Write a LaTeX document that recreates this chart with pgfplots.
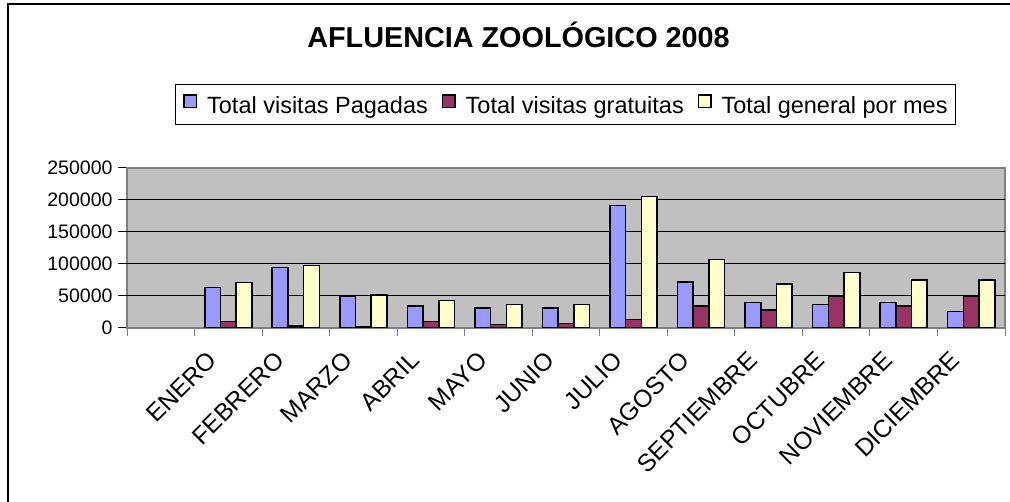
\documentclass[border=0pt]{standalone}
\usepackage{pgfplots}
\pgfplotsset{compat=1.18}
\usepackage{pgfplotstable}
\usepackage{fontspec}
\setmainfont{Liberation Sans}
\definecolor{cblue}{RGB}{153,153,255}
\definecolor{cred}{RGB}{153,51,102}
\definecolor{cyel}{RGB}{255,255,204}
\definecolor{cplot}{RGB}{192,192,192}
\definecolor{cframe}{RGB}{128,128,128}
\pgfplotstableread{
x pag grat tot
1 63000 10400 71300
2 94800 3100 97900
3 49500 2600 51600
4 34400 10400 42700
5 31250 5700 37000
6 31250 7300 37000
7 191100 13500 205700
8 71900 34400 107300
9 39600 28100 68700
10 37000 49500 86500
11 39600 34400 75000
12 25500 49500 75000
}\datatable
\begin{document}
\begin{tikzpicture}[x=1pt,y=1pt]
\path[use as bounding box] (0,0) rectangle (1010,502);
\draw[line width=2pt] (8,0) -- (8,498) -- (1010,498);
\node[font=\fontsize{28.8}{32}\selectfont\bfseries, anchor=base] at (518.5,454) {AFLUENCIA ZOOLÓGICO 2008};
\begin{axis}[
  at={(127pt,174pt)}, anchor=south west,
  scale only axis, width=878pt, height=160pt,
  xmin=-0.5, xmax=12.5, ymin=0, ymax=250000,
  ybar=0pt, bar width=15.7pt,
  axis background/.style={fill=cplot},
  axis line style={draw=cframe, line width=1.5pt},
  xtick={1,...,12},
  xticklabels={ENERO,FEBRERO,MARZO,ABRIL,MAYO,JUNIO,JULIO,AGOSTO,SEPTIEMBRE,OCTUBRE,NOVIEMBRE,DICIEMBRE},
  minor xtick={-0.5,0.5,...,12.5},
  ytick={0,50000,100000,150000,200000,250000},
  yticklabels={0,50000,100000,150000,200000,250000},
  extra y ticks={50000,100000,150000,200000},
  extra y tick labels={},
  extra y tick style={grid=major},
  major grid style={black, line width=1pt},
  tick align=outside, xtick pos=bottom, ytick pos=left,
  major tick length=9pt, minor tick length=8pt,
  major x tick style={draw=none},
  minor x tick style={draw=cframe, line width=1pt},
  major y tick style={draw=black, line width=1pt},
  scaled y ticks=false,
  yticklabel style={font=\fontsize{19.5}{22}\selectfont, xshift=-2pt},
  xticklabel style={font=\fontsize{24.5}{27}\selectfont, xshift=-22pt, yshift=-13pt, rotate=45, anchor=north east, inner sep=0pt},
  legend style={at={(0.4994,1.397)}, anchor=center, legend columns=3,
    draw=black, line width=1pt, font=\fontsize{23.5}{26}\selectfont, inner xsep=8pt, inner ysep=10pt,
    nodes={inner xsep=0pt, inner ysep=0pt},
    /tikz/every odd column/.append style={column sep=10pt},
    /tikz/every even column/.append style={column sep=14pt}},
  legend cell align=left,
]
\addplot[fill=cblue, draw=black, line width=1.6pt,
  legend image code/.code={\draw[fill=cblue, draw=black, line width=1.3pt] (0pt,-2pt) rectangle (12.5pt,10.5pt);}]
  table[x=x, y=pag] {\datatable};
\addplot[fill=cred, draw=black, line width=1.6pt,
  legend image code/.code={\draw[fill=cred, draw=black, line width=1.3pt] (0pt,-2pt) rectangle (12.5pt,10.5pt);}]
  table[x=x, y=grat] {\datatable};
\addplot[fill=cyel, draw=black, line width=1.6pt,
  legend image code/.code={\draw[fill=cyel, draw=black, line width=1.3pt] (0pt,-2pt) rectangle (12.5pt,10.5pt);}]
  table[x=x, y=tot] {\datatable};
\legend{Total visitas Pagadas, Total visitas gratuitas, Total general por mes}
\end{axis}
\end{tikzpicture}
\end{document}
